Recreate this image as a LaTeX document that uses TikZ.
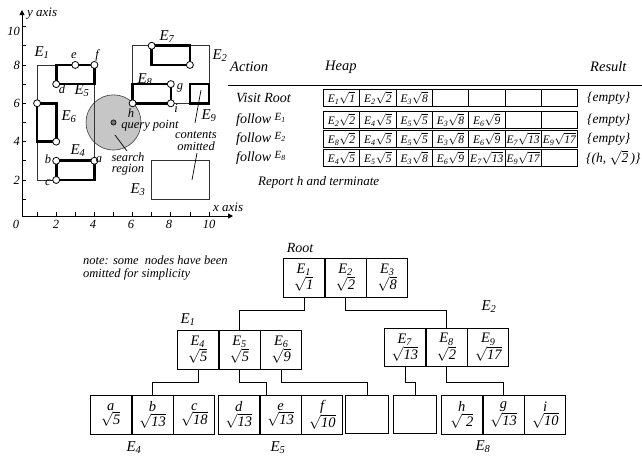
\documentclass[tikz,border=0pt]{standalone}
\usepackage{fontspec}
\setmainfont{Liberation Serif}
\usetikzlibrary{arrows.meta}
\newcommand\hent[2]{E\textsubscript{#1}$\sqrt{\mbox{\itshape #2}}$}
\newcommand\tent[2]{#1\\[0pt]$\sqrt{\mbox{\itshape #2}}$}
\newcommand\elbl[1]{E\textsubscript{#1}}
\begin{document}
\begin{tikzpicture}[x=1pt,y=-1pt,font=\itshape,
  thinbox/.style={draw=black!80,line width=0.8pt},
  thickbox/.style={draw,line width=2.6pt},
  ptc/.style={circle,draw,fill=white,line width=0.8pt,inner sep=0pt,minimum size=7pt},
  elab/.style={font=\fontsize{15}{15}\selectfont\itshape,inner sep=0pt},
  plab/.style={font=\fontsize{12.5}{12.5}\selectfont\itshape,inner sep=0pt},
  ticklab/.style={font=\fontsize{12.5}{12.5}\selectfont\itshape,inner sep=0pt},
  axlab/.style={font=\fontsize{13}{13}\selectfont\itshape,inner sep=0pt},
  txt/.style={font=\fontsize{14.5}{14.5}\selectfont\itshape,inner sep=0pt},
  rowtxt/.style={font=\fontsize{14}{14}\selectfont\itshape,inner sep=0pt},
  restxt/.style={font=\fontsize{13.5}{13.5}\selectfont\itshape,inner sep=0pt},
  heapc/.style={draw,line width=0.8pt,minimum width=36.3pt,minimum height=17pt,inner sep=0pt,anchor=north west,font=\fontsize{11.5}{11.5}\selectfont\itshape},
  tcell/.style={draw,line width=0.7pt,minimum width=41pt,minimum height=39pt,inner sep=0pt,align=center,anchor=north west,font=\fontsize{14.5}{14.5}\selectfont\itshape},
  ecell/.style={tcell,minimum width=43pt,minimum height=38pt},
  conn/.style={line width=0.7pt}]
\useasboundingbox (0,0) rectangle (642,458);

% ---------------- plot ----------------
\begin{scope}[shift={(18pt,-218.3pt)},x=19.1pt,y=19.17pt]
  \fill[gray!45] (5,5) circle (1.44);
  \draw[black!75,line width=0.6pt] (5,5) circle (1.44);
  \draw[thinbox] (1,2) rectangle (4,8);
  \draw[thinbox] (6,6) rectangle (10,9);
  \draw[thinbox] (7,1) rectangle (10,3);
  \draw[thickbox] (2,7) rectangle (4,8);
  \draw[thickbox] (1,4) rectangle (2,6);
  \draw[thickbox] (2,2) rectangle (4,3);
  \draw[thickbox] (7,8) rectangle (9,9);
  \draw[thickbox] (6,6) rectangle (8,7);
  \draw[thickbox] (9,6) rectangle (10,7);
  \fill[black!55,draw=black,line width=0.6pt] (5,5) circle (2.6pt);
  \foreach \p/\q in {2/7,3/8,4/8,1/6,2/4,2/3,2/2,4/3,7/9,9/8,6/6,8/7,8/6}
    \node[ptc] at (\p,\q) {};
  \foreach \u in {1,...,10} \draw[line width=0.7pt] (\u,0.12) -- ++(0,0.22);
  \foreach \v in {1,...,10} \draw[line width=0.7pt] (0.21,\v) -- ++(0.22,0);
\end{scope}
\draw[line width=0.9pt,-{Triangle[length=5pt,width=5pt]}] (22,216) -- (22,10);
\draw[line width=0.9pt,-{Triangle[length=5pt,width=5pt]}] (22,216) -- (233,216);
\node[axlab,anchor=west] (ylab) at (27,14) {y axis};
\node[axlab,anchor=west] (xlab) at (213,207) {x axis};
\foreach \t/\x in {0/16,2/56,4/93,6/131,8/169,10/209}
  \node[ticklab] at (\x,224) {\t};
\foreach \t/\y in {10/31,8/65,6/103,4/141,2/180}
  \node[ticklab,anchor=east] at (20,\y) {\t};
\node[elab] (le1) at (42,53) {\elbl{1}};
\node[elab] (le5) at (82,91) {\elbl{5}};
\node[elab] (le6) at (69,117) {\elbl{6}};
\node[elab] (le4) at (78,151) {\elbl{4}};
\node[elab] (le7) at (167,37) {\elbl{7}};
\node[elab] (le2) at (220,56) {\elbl{2}};
\node[elab] (le8) at (145,80) {\elbl{8}};
\node[elab] (le9) at (209,116) {\elbl{9}};
\node[elab] (le3) at (138,190) {\elbl{3}};
\foreach \t/\x/\y in {e/74/56,f/97/55,d/62/89,b/48/159,c/48/183,a/99/160,g/180/88,i/176/108,h/131/113}
  \node[plab] at (\x,\y) {\t};
\node[plab] (qp) at (150,126) {query point};
\node[plab,align=center] (sr) at (128,164) {search\\[-1pt]region};
\node[plab,align=center] (co) at (196,141) {contents\\[-1pt]omitted};
\coordinate (s1) at (115,135); \coordinate (s2) at (127,151);
\draw[line width=0.7pt] (s1) -- (s2);
\coordinate (c1) at (201,90); \coordinate (c2) at (195,123);
\draw[line width=0.7pt] (c1) -- (c2);
\coordinate (c3) at (197,153); \coordinate (c4) at (192,180);
\draw[line width=0.7pt] (c3) -- (c4);

% ---------------- table ----------------
\node[txt,anchor=west] (hA) at (230,67) {Action};
\node[txt,anchor=west] (hH) at (325,67) {Heap};
\node[txt,anchor=west] (hR) at (590,67) {Result};
\draw[line width=0.8pt] (228,85) -- (642,85);
\node[rowtxt,anchor=west] (ra1) at (236,98) {Visit Root};
\node[rowtxt,anchor=west] (ra2) at (236,120) {follow \raisebox{3pt}{\fontsize{11}{11}\selectfont\elbl{1}}};
\node[rowtxt,anchor=west] (ra3) at (236,139) {follow \raisebox{3pt}{\fontsize{11}{11}\selectfont\elbl{2}}};
\node[rowtxt,anchor=west] (ra4) at (236,158) {follow \raisebox{3pt}{\fontsize{11}{11}\selectfont\elbl{8}}};
\foreach [count=\i from 0] \t in {\hent{1}{1},\hent{2}{2},\hent{3}{8},{},{},{},{}}
  \node[heapc] (ha\i) at ({323+36.3*\i},89) {\t};
\foreach [count=\i from 0] \t in {\hent{2}{2},\hent{4}{5},\hent{5}{5},\hent{3}{8},\hent{6}{9},{},{}}
  \node[heapc] (hb\i) at ({323+36.3*\i},111) {\t};
\foreach [count=\i from 0] \t in {\hent{8}{2},\hent{4}{5},\hent{5}{5},\hent{3}{8},\hent{6}{9},\hent{7}{13},\hent{9}{17}}
  \node[heapc] (hc\i) at ({323+36.3*\i},130) {\t};
\foreach [count=\i from 0] \t in {\hent{4}{5},\hent{5}{5},\hent{3}{8},\hent{6}{9},\hent{7}{13},\hent{9}{17},{}}
  \node[heapc] (hd\i) at ({323+36.3*\i},149) {\t};
\node[restxt,anchor=west] (rr1) at (587,98) {\{empty\}};
\node[restxt,anchor=west] (rr2) at (587,120) {\{empty\}};
\node[restxt,anchor=west] (rr3) at (587,139) {\{empty\}};
\node[restxt,anchor=west] (rr4) at (586,158) {\{(h, $\sqrt{\mbox{\itshape 2}}$\,)\}};
\node[font=\fontsize{13}{13}\selectfont\itshape,inner sep=0pt,anchor=west] (rep) at (258,182) {Report h and terminate};

% ---------------- tree ----------------
\node[font=\fontsize{12.5}{12.5}\selectfont\itshape,anchor=west,align=left,inner sep=0pt] (note) at (83,268)
  {note: some\ \ nodes have been\\[0pt]omitted for simplicity};
\node[font=\fontsize{14}{14}\selectfont\itshape,inner sep=0pt] (rootl) at (300,248) {Root};
\node[tcell] (r1) at (283,258) {\tent{\elbl{1}}{1}};
\node[tcell] (r2) at (r1.north east) {\tent{\elbl{2}}{2}};
\node[tcell] (r3) at (r2.north east) {\tent{\elbl{3}}{8}};

\node[tcell] (n4) at (177,330) {\tent{\elbl{4}}{5}};
\node[tcell] (n5) at (n4.north east) {\tent{\elbl{5}}{5}};
\node[tcell] (n6) at (n5.north east) {\tent{\elbl{6}}{9}};

\node[tcell,minimum height=38pt] (m7) at (384,328) {\tent{\elbl{7}}{13}};
\node[tcell,minimum height=38pt] (m8) at (m7.north east) {\tent{\elbl{8}}{2}};
\node[tcell,minimum height=38pt] (m9) at (m8.north east) {\tent{\elbl{9}}{17}};

\node[tcell] (la) at (90,395) {\tent{a}{5}};
\node[tcell] (lb) at (la.north east) {\tent{b}{13}};
\node[tcell] (lc) at (lb.north east) {\tent{c}{18}};

\node[tcell] (ld) at (218,395) {\tent{d}{13}};
\node[tcell] (le) at (ld.north east) {\tent{e}{13}};
\node[tcell] (lf) at (le.north east) {\tent{f}{10}};

\node[ecell] (x1) at (345,395) {};
\node[ecell] (x2) at (393,395) {};

\node[tcell] (lh) at (441,395) {\tent{h}{\ 2}};
\node[tcell] (lg) at (lh.north east) {\tent{g}{13}};
\node[tcell] (li) at (lg.north east) {\tent{i}{10}};

\draw[conn] (r1.south) -- ++(0,13) -| (n5.north);
\draw[conn] (r2.south) -- ++(0,13) -| (m8.north);
\draw[conn] (n4.south) -- ++(0,13) -| (lb.north);
\draw[conn] (n5.south) -- ++(0,13) -| ([xshift=-14pt]le.north);
\draw[conn] (n6.south) -- ++(0,13) -| (x1.north);
\draw[conn] (m7.south) -- ++(0,16) -| (x2.north);
\draw[conn] (m8.south) -- ++(0,16) -| (lg.north);

\node[elab] (t1) at (188,320) {\elbl{1}};
\node[elab] (t2) at (489,307) {\elbl{2}};
\node[elab] (t4) at (134,448) {\elbl{4}};
\node[elab] (t5) at (278,448) {\elbl{5}};
\node[elab] (t8) at (483,447) {\elbl{8}};
\end{tikzpicture}
\end{document}
